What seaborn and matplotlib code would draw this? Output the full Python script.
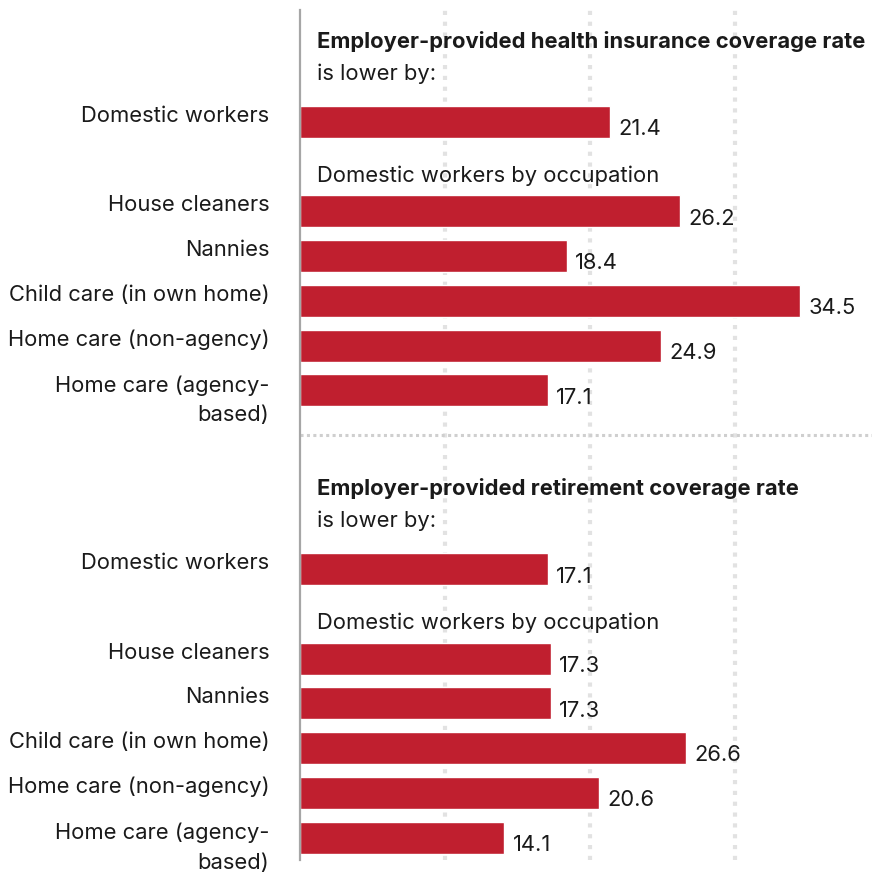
import numpy as np
import pandas as pd
import matplotlib
matplotlib.use("Agg")
import matplotlib.pyplot as plt
import seaborn as sns

# ---- data -------------------------------------------------------------
categories = [
    "Domestic workers",
    "House cleaners",
    "Nannies",
    "Child care (in own home)",
    "Home care (non-agency)",
    "Home care (agency-\nbased)",
]
health_values = [21.4, 26.2, 18.4, 34.5, 24.9, 17.1]
retirement_values = [17.1, 17.3, 17.3, 26.6, 20.6, 14.1]

section_titles = [
    "Employer-provided health insurance coverage rate",
    "Employer-provided retirement coverage rate",
]
section_subtitle = "is lower by:"
group_label = "Domestic workers by occupation"
grid_ticks = [10, 20, 30]

# ---- layout -----------------------------------------------------------
BAR_COLOR = "#C01F2F"
TEXT_COLOR = "#1a1a1a"
FONT = "Inter"
FS = 15.8
LINE_PT = 22.3          # distance between lines of a wrapped label
LINESPACING = 1.6

# row slots inside one section (a blank slot holds the group label)
row_slots = [0, 2, 3, 4, 5, 6]
section_starts = [0, 10]

rows = []
for start, vals in zip(section_starts, [health_values, retirement_values]):
    for slot, cat, v in zip(row_slots, categories, vals):
        rows.append({"pos": start + slot, "category": cat, "value": v})
df = pd.DataFrame(rows)

sns.set_theme(style="white")
plt.rcParams["font.family"] = [FONT, "DejaVu Sans"]

fig = plt.figure(figsize=(8.72, 8.74), dpi=100)
ax = fig.add_axes([300 / 872, 14 / 874, 572 / 872, 850 / 874])

sns.barplot(
    data=df, x="value", y="pos", orient="h", native_scale=True,
    color=BAR_COLOR, saturation=1, width=0.715, ax=ax, zorder=3,
)

ax.set_xlim(0, 572 / 14.5)
ax.set_ylim(16.5, -2.5)

# dotted vertical guides
ax.set_xticks(grid_ticks)
ax.set_xticklabels([])
ax.tick_params(length=0)
ax.set_yticks([])
for gx in grid_ticks:
    ax.axvline(gx, color="#e2e2e2", lw=3.0, linestyle=(0, (1, 1.6)), zorder=1)

# dotted separator between the two sections
ax.axhline(7, color="#cfcfcf", lw=2.2, linestyle=(0, (1, 1.1)), zorder=1)

for side in ["top", "right", "bottom"]:
    ax.spines[side].set_visible(False)
ax.spines["left"].set_color("#a6a6a6")
ax.spines["left"].set_linewidth(1.6)
ax.spines["left"].set_zorder(4)
ax.set_xlabel("")
ax.set_ylabel("")

# category labels (first baseline on the bar centre) and value labels
for _, r in df.iterrows():
    extra = r["category"].count("\n")
    ax.annotate(
        r["category"], xy=(0, r["pos"]), xytext=(-22, -extra * LINE_PT),
        textcoords="offset points", ha="right", va="baseline",
        fontsize=FS, color=TEXT_COLOR, linespacing=LINESPACING,
        annotation_clip=False,
    )
    ax.annotate(
        f"{r['value']:.1f}", xy=(r["value"], r["pos"]), xytext=(6.0, -9.6),
        textcoords="offset points", ha="left", va="baseline",
        fontsize=FS, color=TEXT_COLOR,
    )

# section headings
for start, title in zip(section_starts, section_titles):
    ax.annotate(title, xy=(0, start - 1.655), xytext=(12.2, 0),
                textcoords="offset points", ha="left", va="baseline",
                fontsize=FS, fontweight="bold", color=TEXT_COLOR)
    ax.annotate(section_subtitle, xy=(0, start - 0.94), xytext=(12.2, 0),
                textcoords="offset points", ha="left", va="baseline",
                fontsize=FS, color=TEXT_COLOR)
    ax.annotate(group_label, xy=(0, start + 1.335), xytext=(12.2, 0),
                textcoords="offset points", ha="left", va="baseline",
                fontsize=FS, color=TEXT_COLOR)

fig.savefig("out.png", dpi=100)
